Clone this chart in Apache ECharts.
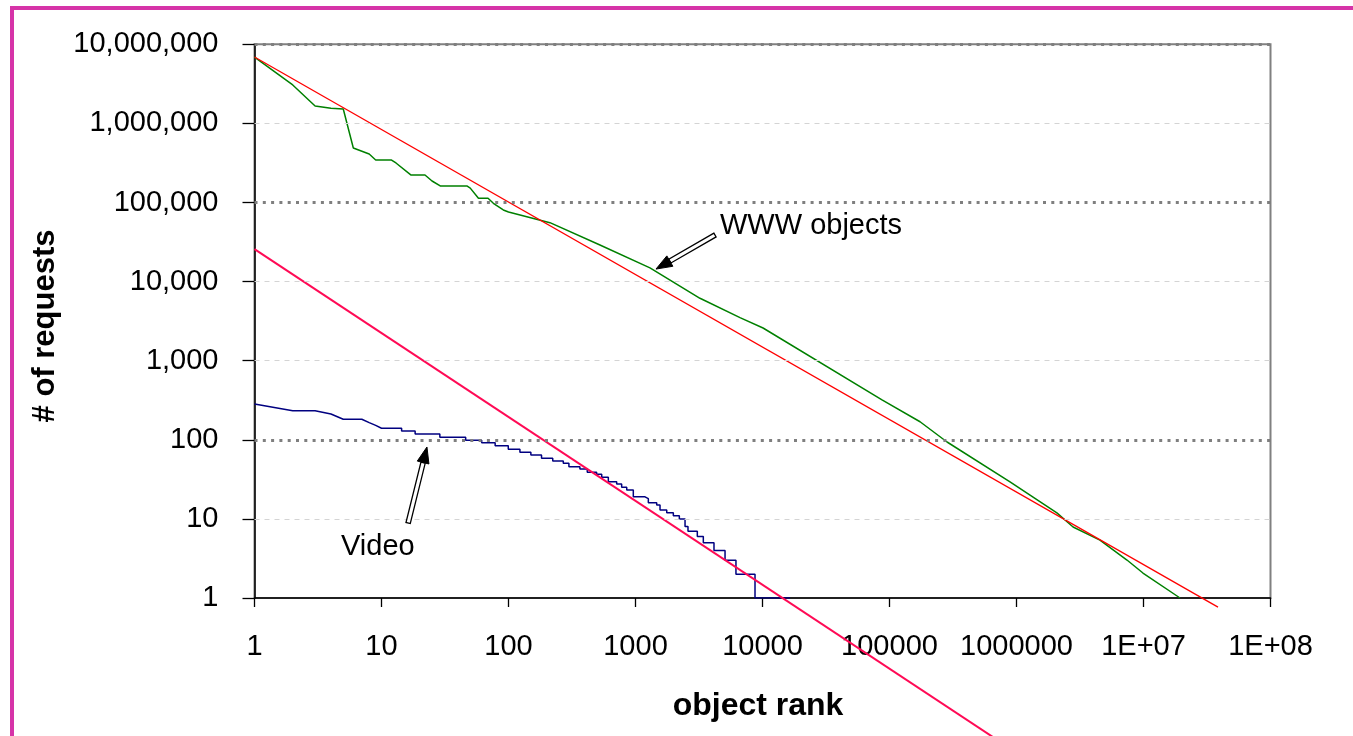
<!DOCTYPE html>
<html><head><meta charset="utf-8">
<script src="https://cdn.jsdelivr.net/npm/echarts@6/dist/echarts.min.js"></script>
<style>html,body{margin:0;padding:0;background:#fff}#c{width:1353px;height:736px}</style>
</head><body><div id="c"></div>
<script>
// ---- data ----
const xTickLabels = ['1','10','100','1000','10000','100000','1000000','1E+07','1E+08'];
const yTickLabels = ['1','10','100','1,000','10,000','100,000','1,000,000','10,000,000'];

const wwwRank = [1,2,3,4,5,6,8,9,12,13,17,22,25,29,47,50,58,69,76,91,100,212,525,1300,3220,6650,10100,87300,174000,284000,889000,2080000,2790000,4540000,7410000,9900000,19400000];
const wwwRequests = [6900000,3060000,1660000,1550000,1520000,489000,410000,344000,344000,316000,223000,223000,187000,162000,162000,152000,113000,113000,97700,80400,76000,55600,29000,14900,6150,3500,2590,319,169,93.8,29.3,11.9,7.9,5.4,3.02,2.07,1];

const wwwFitRank = [1, 38600000];
const wwwFitRequests = [6900000, 0.767];

const videoHeadRank = [1,2,3,4,5,6,7,8,9];
const videoHeadRequests = [284,233,233,212,182,182,182,165,152];
const videoStepRank = [10,14.4,18.4,28.8,46,61.5,78.5,99.6,123,150,182,223,270,299,365,417,494,542,611,711,778,853,961,1188,1262,1469,1560,1762,1986,2214,2455,2590,3067,3420,4150,5070,6180,8730];
const videoStepRequests = [140,129,118,108,98.6,92,84,76,69.5,64.3,58.4,54,50.5,45.7,42.8,38.8,36.6,33.6,29.5,27.6,25.1,23.2,19,18,16,15,13,12,11,10,8,7,6,5,4,3,2,1];
const videoLastRank = 16500;

const videoFitRank = [1, 1000000];
const videoFitRequests = [25800, 0.0111];

const majorGrid = [100, 100000, 10000000];
const minorGrid = [10, 1000, 10000, 1000000];

// annotation anchors (data space): [tail, tip]
const wwwArrow = [[4227, 38800], [1450, 14400]];
const videoArrow = [[16.2, 8.87], [22.8, 81.1]];

// ---- build ----
const FONT = '"Liberation Sans", Arial, Helvetica, sans-serif';
const zip = (a, b) => a.map((v, i) => [v, b[i]]);
const videoData = zip(videoHeadRank, videoHeadRequests);
videoStepRank.forEach((r, i) => {
  const next = i + 1 < videoStepRank.length ? videoStepRank[i + 1] : videoLastRank;
  videoData.push([r, videoStepRequests[i]]);
  videoData.push([next, videoStepRequests[i]]);
});
const lg = v => Math.round(Math.log10(v));

const gridLines = majorGrid.map(v => ({yAxis: v, lineStyle: {color: '#7f7f7f', width: 3, type: [3, 5.3]}}))
  .concat(minorGrid.map(v => ({yAxis: v, lineStyle: {color: '#d4d4d4', width: 1, type: [5, 5]}})));

const chart = echarts.init(document.getElementById('c'), null, {renderer: 'canvas'});
chart.setOption({
  animation: false,
  backgroundColor: '#ffffff',
  grid: {left: 254.5, right: 82.5, top: 44.3, bottom: 138, show: true, borderColor: '#808080', borderWidth: 2, backgroundColor: 'transparent'},
  xAxis: {
    type: 'log', logBase: 10, min: 1, max: 100000000,
    axisLine: {show: true, lineStyle: {color: '#000', width: 1.5}},
    axisTick: {show: true, length: 9, lineStyle: {color: '#000', width: 1.3}},
    axisLabel: {margin: 34, fontSize: 29, color: '#000', fontFamily: FONT, formatter: v => xTickLabels[lg(v)]},
    splitLine: {show: false}, minorTick: {show: false}
  },
  yAxis: {
    type: 'log', logBase: 10, min: 1, max: 10000000,
    axisLine: {show: true, lineStyle: {color: '#000', width: 1.5}},
    axisTick: {show: true, length: 12, lineStyle: {color: '#000', width: 1.3}},
    axisLabel: {margin: 36, fontSize: 29, color: '#000', fontFamily: FONT, formatter: v => yTickLabels[lg(v)]},
    splitLine: {show: false}
  },
  series: [
    {type: 'line', data: [[1, 1]], showSymbol: false, lineStyle: {width: 0, opacity: 0}, z: 1, silent: true,
     markLine: {silent: true, symbol: 'none', label: {show: false}, data: gridLines}},
    {name: 'WWW objects', type: 'line', data: zip(wwwRank, wwwRequests), showSymbol: false, z: 3,
     lineStyle: {color: '#008000', width: 1.5}},
    {name: 'Video', type: 'line', data: videoData, showSymbol: false, z: 3,
     lineStyle: {color: '#000080', width: 1.5}},
    {name: 'WWW fit', type: 'line', data: zip(wwwFitRank, wwwFitRequests), showSymbol: false, clip: false, z: 4,
     lineStyle: {color: '#ff0000', width: 1.3}},
    {name: 'Video fit', type: 'line', data: zip(videoFitRank, videoFitRequests), showSymbol: false, clip: false, z: 4,
     lineStyle: {color: '#ff0a55', width: 2}}
  ]
});

function arrowShapes(anchor) {
  const p0 = chart.convertToPixel({gridIndex: 0}, anchor[0]);
  const p1 = chart.convertToPixel({gridIndex: 0}, anchor[1]);
  const dx = p1[0] - p0[0], dy = p1[1] - p0[1];
  const len = Math.hypot(dx, dy), ux = dx / len, uy = dy / len, nx = -uy, ny = ux;
  const hl = 16, hw = 6, sw = 2.2;
  const b = [p1[0] - ux * hl, p1[1] - uy * hl];
  return [
    {type: 'polygon', z: 10, shape: {points: [[p0[0] + nx * sw, p0[1] + ny * sw], [b[0] + nx * sw, b[1] + ny * sw], [b[0] - nx * sw, b[1] - ny * sw], [p0[0] - nx * sw, p0[1] - ny * sw]]},
     style: {fill: '#fff', stroke: '#000', lineWidth: 1.3}},
    {type: 'polygon', z: 11, shape: {points: [[p1[0], p1[1]], [b[0] + nx * hw, b[1] + ny * hw], [b[0] - nx * hw, b[1] - ny * hw]]},
     style: {fill: '#000', stroke: '#000', lineWidth: 1}}
  ];
}

const txt = (t, x, y, opt) => Object.assign({type: 'text', z: 12, style: Object.assign({text: t, x: x, y: y, fill: '#000', font: '29px ' + FONT, textAlign: 'left', textVerticalAlign: 'middle'}, opt || {})});

chart.setOption({
  graphic: [
    {type: 'rect', z: 20, shape: {x: 10, y: 6, width: 1343, height: 4}, style: {fill: '#d633a8'}},
    {type: 'rect', z: 20, shape: {x: 10, y: 6, width: 4, height: 730}, style: {fill: '#d633a8'}},
    txt('WWW objects', 720, 226),
    txt('Video', 341, 547),
    {type: 'text', z: 12, x: 758, y: 706, style: {text: 'object rank', fill: '#000', font: 'bold 32px ' + FONT, textAlign: 'center', textVerticalAlign: 'middle'}},
    {type: 'text', z: 12, x: 45, y: 326, rotation: Math.PI / 2, style: {text: '# of requests', fill: '#000', font: 'bold 31px ' + FONT, textAlign: 'center', textVerticalAlign: 'middle'}}
  ].concat(arrowShapes(wwwArrow), arrowShapes(videoArrow))
});
</script></body></html>
